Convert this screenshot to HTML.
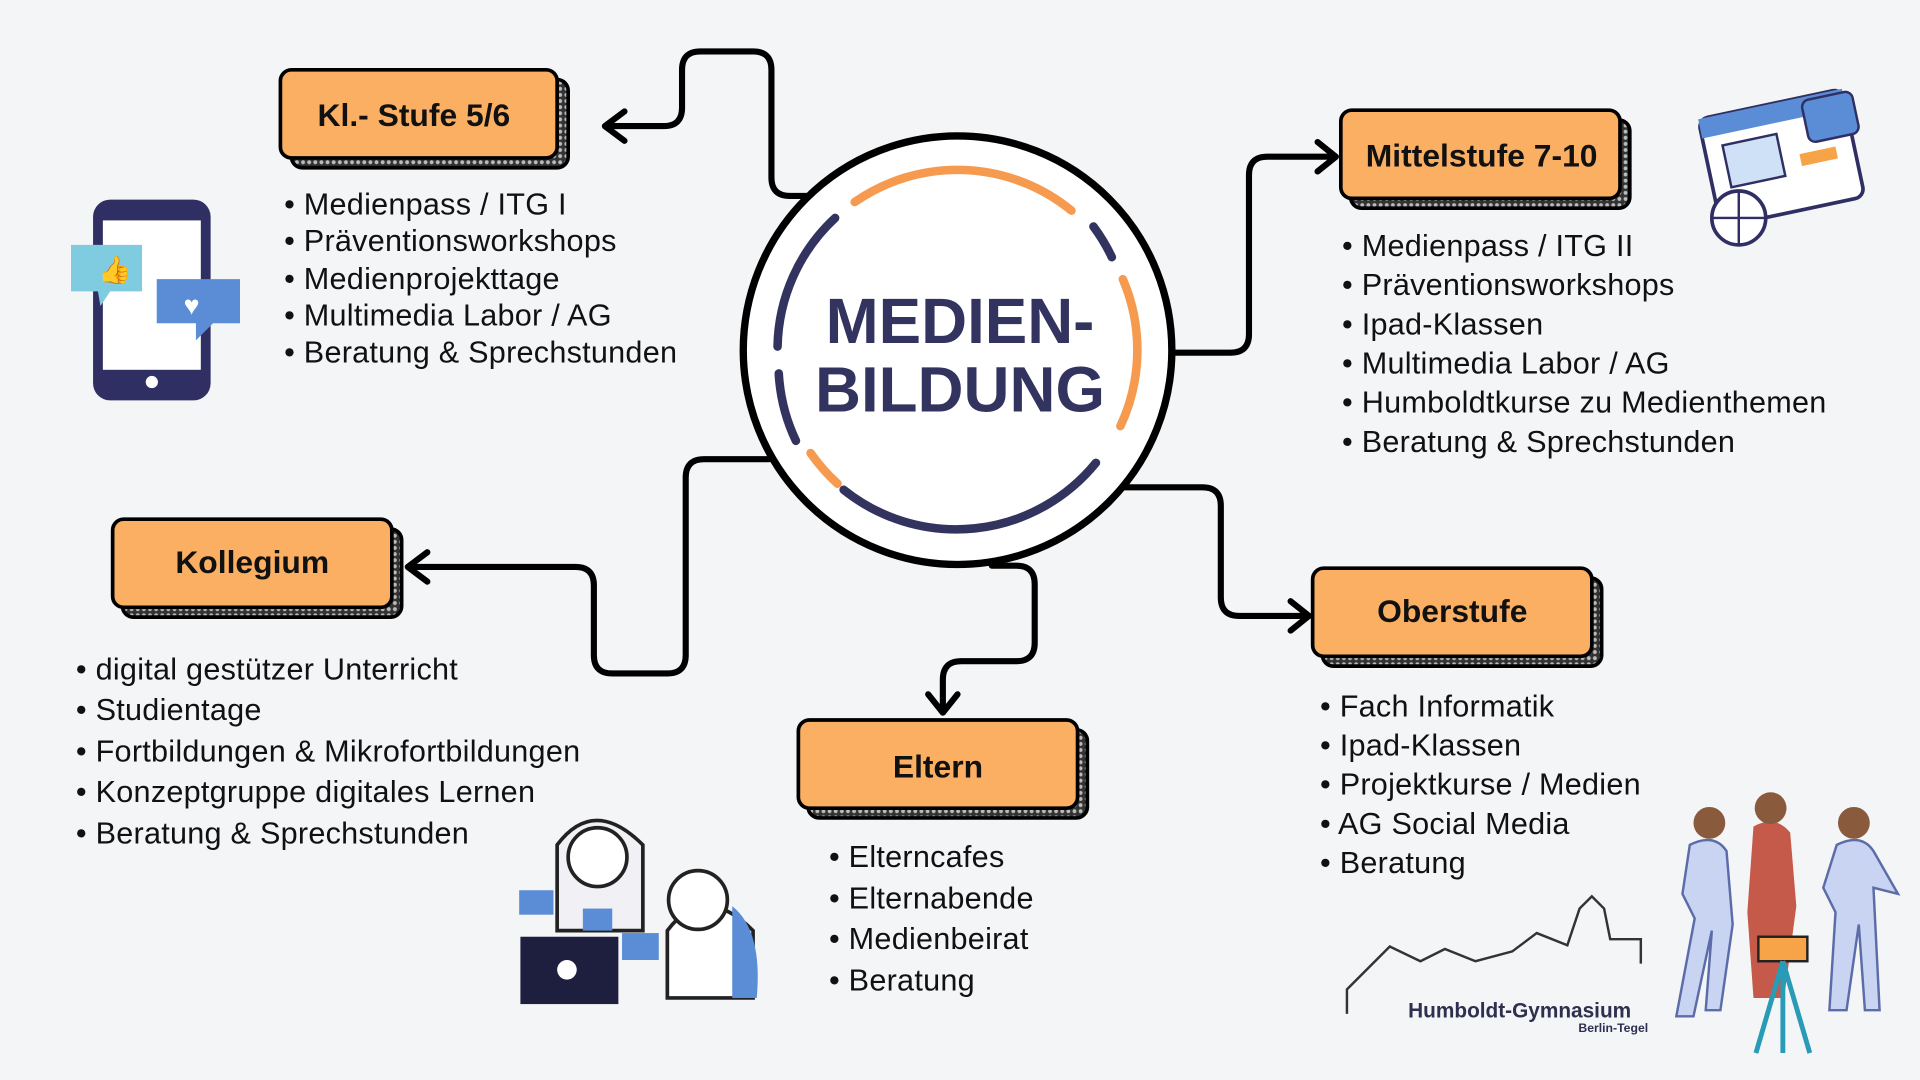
<!DOCTYPE html>
<html><head><meta charset="utf-8"><style>
html,body{margin:0;padding:0;background:#f4f5f7;}
svg{display:block}
text{font-family:"Liberation Sans",sans-serif}
.li{font-size:25px;fill:#111;letter-spacing:0.2px}
.t{font-size:26px;font-weight:bold;fill:#111;text-anchor:middle}
</style></head><body>
<svg width="1920" height="1080" viewBox="0 0 1568 882" xmlns="http://www.w3.org/2000/svg">
<defs>
<pattern id="dots" width="5" height="5" patternUnits="userSpaceOnUse"><rect width="5" height="5" fill="#333"/><circle cx="2.5" cy="2.5" r="1.6" fill="#bbb"/></pattern>
</defs>
<rect width="1568" height="882" fill="#f4f5f7"/>
<g fill="none" stroke="#000" stroke-width="5" stroke-linecap="round" stroke-linejoin="round">
<path d="M660,160 H645 Q630,160 630,145 V57 Q630,42 615,42 H572 Q557,42 557,57 V88 Q557,103 542,103 H495"/>
<path d="M510,91 L494,103 L510,115"/>
<path d="M957,288 H1005 Q1020,288 1020,273 V143 Q1020,128 1035,128 H1090"/>
<path d="M1076,116 L1091,128 L1076,140"/>
<path d="M628,375 H575 Q560,375 560,390 V535 Q560,550 545,550 H500 Q485,550 485,535 V478 Q485,463 470,463 H334"/>
<path d="M349,451 L333,463 L349,475"/>
<path d="M810,462 H830 Q845,462 845,477 V525 Q845,540 830,540 H785 Q770,540 770,555 V580"/>
<path d="M758,567 L770,582 L782,567"/>
<path d="M915,398 H982 Q997,398 997,413 V488 Q997,503 1012,503 H1068"/>
<path d="M1054,491 L1069,503 L1054,515"/>
</g>
<circle cx="782" cy="286" r="175" fill="#fff" stroke="#000" stroke-width="6"/>
<g fill="none" stroke-width="7" stroke-linecap="round">
<path d="M698,165 A147,147 0 0 1 875,172" stroke="#f59a4f"/>
<path d="M917,228 A147,147 0 0 1 915,348" stroke="#f59a4f"/>
<path d="M662,370 A147,147 0 0 0 684,395" stroke="#f59a4f"/>
<path d="M682,178 A147,147 0 0 0 635,283" stroke="#33335f"/>
<path d="M636,305 A147,147 0 0 0 650,360" stroke="#33335f"/>
<path d="M689,400 A147,147 0 0 0 895,378" stroke="#33335f"/>
<path d="M893,185 A147,147 0 0 1 908,210" stroke="#33335f"/>
</g>
<text x="784" y="280" text-anchor="middle" font-size="52" font-weight="bold" fill="#33335f">MEDIEN-</text>
<text x="784" y="336" text-anchor="middle" font-size="52" font-weight="bold" fill="#33335f">BILDUNG</text>
<g stroke="#000" stroke-width="3">
<rect x="238" y="65" width="226" height="72" rx="9" fill="url(#dots)"/>
<rect x="229" y="57" width="226" height="72" rx="9" fill="#fbaf63"/>
<rect x="1103" y="98" width="228" height="72" rx="9" fill="url(#dots)"/>
<rect x="1095" y="90" width="228" height="72" rx="9" fill="#fbaf63"/>
<rect x="100" y="432" width="228" height="72" rx="9" fill="url(#dots)"/>
<rect x="92" y="424" width="228" height="72" rx="9" fill="#fbaf63"/>
<rect x="660" y="596" width="228" height="72" rx="9" fill="url(#dots)"/>
<rect x="652" y="588" width="228" height="72" rx="9" fill="#fbaf63"/>
<rect x="1080" y="472" width="228" height="72" rx="9" fill="url(#dots)"/>
<rect x="1072" y="464" width="228" height="72" rx="9" fill="#fbaf63"/>
</g>
<text class="t" x="338" y="103">Kl.- Stufe 5/6</text>
<text class="t" x="1210" y="136">Mittelstufe 7-10</text>
<text class="t" x="206" y="468">Kollegium</text>
<text class="t" x="766" y="635">Eltern</text>
<text class="t" x="1186" y="508">Oberstufe</text>
<g class="li">
<text x="232" y="175">• Medienpass / ITG I</text>
<text x="232" y="205">• Präventionsworkshops</text>
<text x="232" y="236">• Medienprojekttage</text>
<text x="232" y="266">• Multimedia Labor / AG</text>
<text x="232" y="296">• Beratung &amp; Sprechstunden</text>
<text x="1096" y="209">• Medienpass / ITG II</text>
<text x="1096" y="241">• Präventionsworkshops</text>
<text x="1096" y="273">• Ipad-Klassen</text>
<text x="1096" y="305">• Multimedia Labor / AG</text>
<text x="1096" y="337">• Humboldtkurse zu Medienthemen</text>
<text x="1096" y="369">• Beratung &amp; Sprechstunden</text>
<text x="62" y="555">• digital gestützer Unterricht</text>
<text x="62" y="588">• Studientage</text>
<text x="62" y="622">• Fortbildungen &amp; Mikrofortbildungen</text>
<text x="62" y="655">• Konzeptgruppe digitales Lernen</text>
<text x="62" y="689">• Beratung &amp; Sprechstunden</text>
<text x="677" y="708">• Elterncafes</text>
<text x="677" y="742">• Elternabende</text>
<text x="677" y="775">• Medienbeirat</text>
<text x="677" y="809">• Beratung</text>
<text x="1078" y="585">• Fach Informatik</text>
<text x="1078" y="617">• Ipad-Klassen</text>
<text x="1078" y="649">• Projektkurse / Medien</text>
<text x="1078" y="681">• AG Social Media</text>
<text x="1078" y="713">• Beratung</text>
</g>
<rect x="76" y="163" width="96" height="164" rx="14" fill="#2f2f63"/>
<rect x="84" y="180" width="80" height="122" fill="#fff"/>
<circle cx="124" cy="312" r="5" fill="#fff"/>
<path d="M58,200 h58 v38 h-26 l-8,12 l-2,-12 h-22z" fill="#7fcbe0"/>
<path d="M128,228 h68 v36 h-22 l-14,14 l0,-14 h-32z" fill="#5b8dd6"/>
<text x="80" y="228" font-size="22" fill="#fff">👍</text>
<text x="150" y="257" font-size="22" fill="#fff">♥</text>
<g transform="rotate(-12 1450 130)">
<rect x="1395" y="85" width="120" height="90" rx="8" fill="#fff" stroke="#2f2f63" stroke-width="3"/>
<rect x="1395" y="85" width="120" height="16" fill="#5b8dd6"/>
<rect x="1410" y="110" width="45" height="35" fill="#cfe1f7" stroke="#2f2f63" stroke-width="2"/>
<rect x="1470" y="130" width="30" height="10" fill="#f7a347"/>
<rect x="1480" y="88" width="42" height="35" rx="6" fill="#5b8dd6" stroke="#2f2f63" stroke-width="2"/>
</g>
<circle cx="1420" cy="178" r="22" fill="#fff" stroke="#2f2f63" stroke-width="3"/>
<path d="M1398,178 h44 M1420,156 v44" stroke="#2f2f63" stroke-width="2"/>
<rect x="425" y="765" width="80" height="55" fill="#1e1e3f"/>
<circle cx="463" cy="792" r="8" fill="#fff"/>
<path d="M455,690 q30,-40 70,0 v70 h-70z" fill="#f0f0f5" stroke="#222" stroke-width="3"/>
<circle cx="488" cy="700" r="24" fill="#fff" stroke="#222" stroke-width="3"/>
<path d="M545,760 q30,-40 70,0 v55 h-70z" fill="#fff" stroke="#222" stroke-width="3"/>
<circle cx="570" cy="735" r="24" fill="#fff" stroke="#222" stroke-width="3"/>
<path d="M598,740 q25,20 20,75 h-20z" fill="#5b8dd6"/>
<rect x="424" y="727" width="28" height="20" fill="#5b8dd6"/>
<rect x="476" y="742" width="24" height="18" fill="#5b8dd6"/>
<rect x="508" y="762" width="30" height="22" fill="#5b8dd6"/>
<path d="M1100,828 v-20 l35,-35 l25,12 l20,-10 l25,10 l30,-8 l20,-15 l25,10 l10,-30 l10,-10 l10,10 l5,25 l25,0 l0,20" fill="none" stroke="#333" stroke-width="2"/>
<text x="1150" y="831" font-size="17" font-weight="bold" fill="#2f2f4f">Humboldt-Gymnasium</text>
<text x="1346" y="843" font-size="10" font-weight="bold" fill="#2f2f4f" text-anchor="end">Berlin-Tegel</text>
<g fill="#c9d4f3" stroke="#5b6ca8" stroke-width="2">
<path d="M1380,690 q20,-10 30,5 l5,60 l-10,70 h-12 l5,-65 l-15,70 h-14 l15,-80 l-10,-20z"/>
<path d="M1500,690 q20,-10 30,5 l20,35 l-20,-5 l5,100 h-12 l-5,-70 l-10,70 h-14 l5,-80 l-10,-20z"/>
</g>
<circle cx="1396" cy="672" r="13" fill="#8a5a3c"/>
<circle cx="1514" cy="672" r="13" fill="#8a5a3c"/>
<path d="M1432,675 q18,-10 30,5 l5,60 l-10,75 h-25 l-5,-70z" fill="#c55a4a"/>
<circle cx="1446" cy="660" r="13" fill="#8a5a3c"/>
<rect x="1436" y="765" width="40" height="20" fill="#f7a347" stroke="#222" stroke-width="2"/>
<path d="M1456,785 l-22,75 M1456,785 l0,75 M1456,785 l22,75" stroke="#2a9bb7" stroke-width="4"/>
</svg>
</body></html>
